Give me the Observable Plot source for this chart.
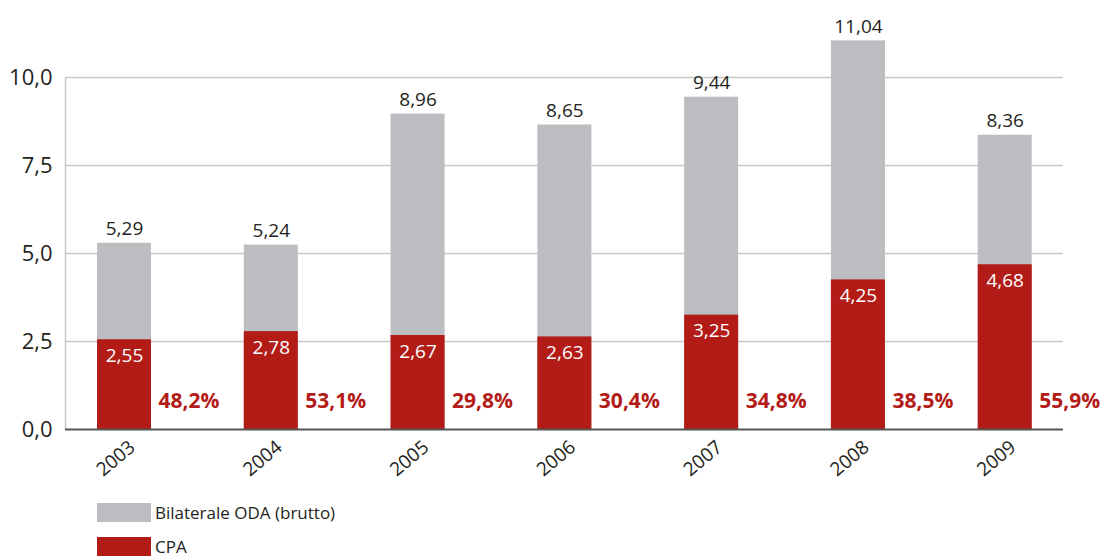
<!DOCTYPE html>
<html>
<head>
<meta charset="utf-8">
<script src="https://cdn.jsdelivr.net/npm/d3@7"></script>
<script src="https://cdn.jsdelivr.net/npm/@observablehq/plot@0.6"></script>
<style>
  html, body { margin: 0; padding: 0; background: #fff; }
  body { width: 1103px; height: 556px; overflow: hidden; font-family: "Open Sans", sans-serif; }
  #chart svg { display: block; }
  .legend { position: relative; height: 66px; }
  .item { position: absolute; left: 97px; display: flex; align-items: center; font-size: 17px; line-height: 19px; height: 19px; color: #231f20; }
  .sw { width: 54px; height: 19px; margin-right: 4px; }
</style>
</head>
<body>
<div id="chart"></div>
<div class="legend">
  <div class="item" style="top:13px"><div class="sw" style="background:#bcbdc0"></div>Bilaterale ODA (brutto)</div>
  <div class="item" style="top:47px"><div class="sw" style="background:#b31b17"></div>CPA</div>
</div>
<script>
const years = [2003, 2004, 2005, 2006, 2007, 2008, 2009];
const odaValues = [5.29, 5.24, 8.96, 8.65, 9.44, 11.04, 8.36];
const cpaValues = [2.55, 2.78, 2.67, 2.63, 3.25, 4.25, 4.68];
const shareValues = [48.2, 53.1, 29.8, 30.4, 34.8, 38.5, 55.9];
const yTicks = [0, 2.5, 5, 7.5, 10];

const GREY = "#bcbdc0";
const RED = "#b31b17";
const half = 0.184;
const xDomain = [2002.598, 2009.397];

const rows = years.map((year, i) => ({year, oda: odaValues[i], cpa: cpaValues[i], share: shareValues[i]}));
const comma = (v, d) => v.toFixed(d).replace(".", ",");

const chart = Plot.plot({
  width: 1103,
  height: 490,
  marginLeft: 65,
  marginRight: 40,
  marginTop: 6.6,
  marginBottom: 61,
  style: {fontFamily: "'Open Sans', sans-serif", color: "#231f20", background: "#fff"},
  x: {type: "linear", domain: xDomain, axis: null},
  y: {domain: [0, 12], axis: null},
  marks: [
    Plot.ruleY(yTicks.filter(t => t > 0), {stroke: "#c8c8c8", strokeWidth: 1.5}),
    Plot.ruleX([xDomain[0]], {y1: 0, y2: yTicks[yTicks.length - 1], stroke: "#c8c8c8", strokeWidth: 1.5}),
    Plot.axisY({ticks: yTicks, tickSize: 0, tickPadding: 13, tickFormat: d => comma(d, 1), label: null, fontSize: 22, fill: "#231f20"}),
    Plot.rectY(rows, {x1: d => d.year - half, x2: d => d.year + half, y: "oda", fill: GREY}),
    Plot.rectY(rows, {x1: d => d.year - half, x2: d => d.year + half, y: "cpa", fill: RED}),
    Plot.ruleY([0], {stroke: "#555", strokeWidth: 2}),
    Plot.text(rows, {x: "year", y: "oda", text: d => comma(d.oda, 2), dy: -14, fontSize: 19, fill: "#231f20"}),
    Plot.text(rows, {x: "year", y: "cpa", text: d => comma(d.cpa, 2), dy: 16, fontSize: 19, fill: "#fff"}),
    Plot.text(rows, {x: "year", y: 0, text: d => comma(d.share, 1) + "%", dx: 34, dy: -28, textAnchor: "start", fontSize: 21, fontWeight: "bold", fill: RED}),
    Plot.text(rows, {x: "year", y: 0, text: d => String(d.year), rotate: -40, textAnchor: "end", dx: 8, dy: 15, fontSize: 19, fill: "#231f20"})
  ]
});
document.getElementById("chart").append(chart);
</script>
</body>
</html>
